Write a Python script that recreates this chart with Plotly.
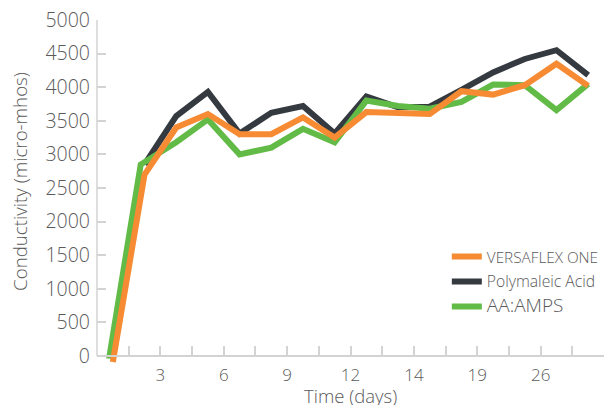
import numpy as np
import plotly.graph_objects as go

# Sampling slots along the time axis (one per measurement)
slot = np.arange(16) + 0.5

# Tick marks sit on slot boundaries; only some carry day labels
tick_pos = list(range(1, 17))
tick_text = ["", "3", "", "6", "", "9", "", "12", "", "14", "", "19", "", "26", "", ""]

versaflex = [-90, 2700, 3400, 3600, 3300, 3300, 3550, 3250, 3630, 3620,
             3600, 3940, 3890, 4030, 4350, 4020]
polymaleic = [None, 2850, 3570, 3930, 3310, 3620, 3720, 3310, 3860, 3700,
              3710, 3960, 4220, 4420, 4550, 4180]
aa_amps = [-40, 2850, 3180, 3520, 3000, 3100, 3380, 3180, 3800, 3720,
           3680, 3780, 4040, 4030, 3660, 4050]
aa_amps_slot = [0.38, 1.38] + list(slot[2:])

ORANGE = "#F68B33"
CHARCOAL = "#343A40"
GREEN = "#62BB47"
AXIS_GRAY = "#D3D3D3"
TEXT_GRAY = "#5A5A5A"
FONT = "Open Sans"
W = 300

Y_MIN, Y_MAX = -120, 5000

fig = go.Figure()
fig.add_trace(go.Scatter(x=slot, y=polymaleic, mode="lines",
                         name='<span style="font-size:15.7px">Polymaleic Acid</span>',
                         line=dict(color=CHARCOAL, width=6), legendrank=2,
                         legendgroup="b"))
fig.add_trace(go.Scatter(x=aa_amps_slot, y=aa_amps, mode="lines",
                         name='<span style="font-size:19px">AA:AMPS</span>',
                         line=dict(color=GREEN, width=6), legendrank=3,
                         legendgroup="c"))
fig.add_trace(go.Scatter(x=slot, y=versaflex, mode="lines", name="VERSAFLEX ONE",
                         line=dict(color=ORANGE, width=6), legendrank=1,
                         legendgroup="a"))

zero_pos = (0 - Y_MIN) / (Y_MAX - Y_MIN)

fig.update_layout(
    width=607, height=405,
    margin=dict(l=97, r=3, t=20, b=41),
    paper_bgcolor="white", plot_bgcolor="white",
    font=dict(family=FONT, color=TEXT_GRAY, weight=W),
    showlegend=True,
    legend=dict(x=0.69, y=0.36, xanchor="left", yanchor="top",
                font=dict(size=15.3, color=TEXT_GRAY, family=FONT, weight=W),
                tracegroupgap=2, bgcolor="rgba(0,0,0,0)"),
    xaxis=dict(range=[0, 16], tickmode="array", tickvals=tick_pos, ticktext=tick_text,
               ticks="inside", ticklen=9, tickwidth=1.5, tickcolor=AXIS_GRAY,
               showline=True, linecolor=AXIS_GRAY, linewidth=1.5,
               showgrid=False, zeroline=False, anchor="free", position=zero_pos,
               ticklabelstandoff=4,
               tickfont=dict(size=17, color=TEXT_GRAY, family=FONT, weight=W)),
    yaxis=dict(range=[Y_MIN, Y_MAX], tickmode="array",
               tickvals=list(range(0, 5001, 500)),
               ticks="inside", ticklen=9, tickwidth=1.5, tickcolor=AXIS_GRAY,
               showline=False, showgrid=False, zeroline=False,
               ticklabelstandoff=6,
               tickfont=dict(size=19.5, color=TEXT_GRAY, family=FONT, weight=W)),
    shapes=[dict(type="line", xref="paper", yref="y", x0=0, x1=0, y0=0, y1=Y_MAX,
                 line=dict(color=AXIS_GRAY, width=1.5), layer="below")],
    annotations=[
        dict(text="Conductivity (micro-mhos)", xref="paper", yref="paper",
             x=-0.152, y=0.532, textangle=-90, showarrow=False,
             xanchor="center", yanchor="middle",
             font=dict(size=18.7, color=TEXT_GRAY, family=FONT, weight=W)),
        dict(text="Time (days)", xref="paper", yref="paper",
             x=0.5, y=-0.092, showarrow=False, xanchor="center", yanchor="middle",
             font=dict(size=18.5, color=TEXT_GRAY, family=FONT, weight=W)),
    ],
)

fig.write_html("out.html")
